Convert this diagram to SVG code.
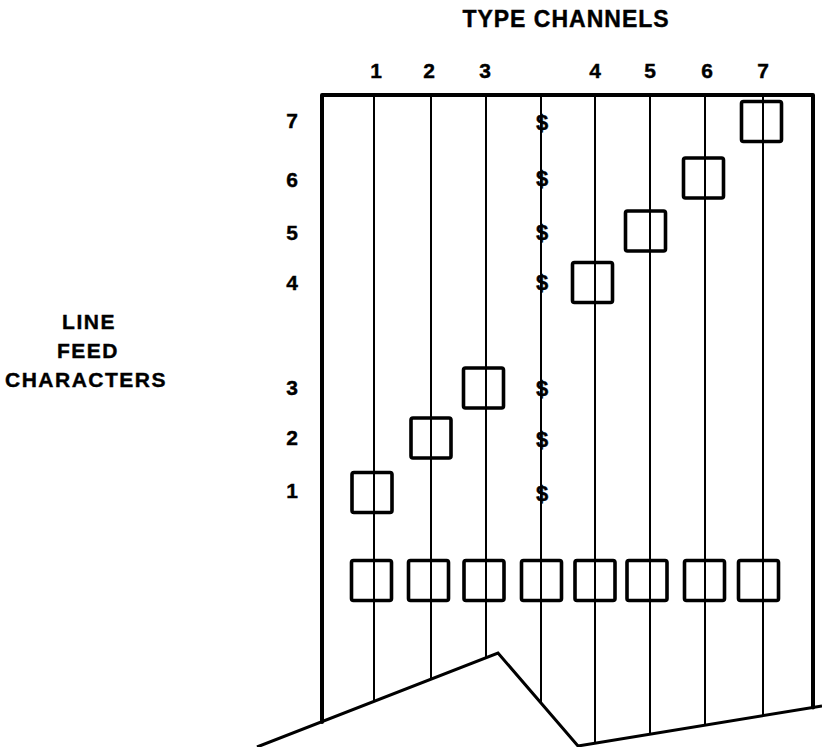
<svg xmlns="http://www.w3.org/2000/svg" width="822" height="747" viewBox="0 0 822 747">
<style>
.t{font-family:"Liberation Sans",Arial,sans-serif;font-weight:bold;fill:#000;stroke:#000;stroke-width:0.4;}
.lab{font-size:21px;text-anchor:middle;letter-spacing:1.5px;}
.num{font-size:21px;text-anchor:middle;}
.dol{font-size:22px;text-anchor:middle;}
.hdr{font-size:23px;text-anchor:middle;letter-spacing:1px;}
.frame{fill:none;stroke:#000;stroke-width:4;stroke-linejoin:round;stroke-linecap:round;}
.ch{stroke:#000;stroke-width:2;fill:none;}
.sq{fill:none;stroke:#000;stroke-width:3.6;}
.edge{fill:none;stroke:#000;stroke-width:3;stroke-linejoin:miter;}
</style>
<rect width="822" height="747" fill="#fff"/>

<g id="header">
<text class="t hdr" x="566" y="27">TYPE CHANNELS</text>
<text class="t num" x="376" y="78">1</text>
<text class="t num" x="429" y="78">2</text>
<text class="t num" x="485" y="78">3</text>
<text class="t num" x="595" y="78">4</text>
<text class="t num" x="650" y="78">5</text>
<text class="t num" x="707" y="78">6</text>
<text class="t num" x="763" y="78">7</text>
</g>

<g id="side-label">
<text class="t lab" x="89" y="329">LINE</text>
<text class="t lab" x="88" y="358">FEED</text>
<text class="t lab" x="86" y="387">CHARACTERS</text>
</g>

<g id="row-labels">
<text class="t num" x="292" y="128">7</text>
<text class="t num" x="292" y="187">6</text>
<text class="t num" x="292" y="240">5</text>
<text class="t num" x="292" y="290">4</text>
<text class="t num" x="292" y="395">3</text>
<text class="t num" x="292" y="445">2</text>
<text class="t num" x="292" y="498">1</text>
</g>

<g id="frame">
<path class="frame" d="M322,722 L322,95 L813,95 L813,707.5"/>
<polyline class="edge" points="257,747 498,653 578,746 822,706"/>
</g>

<g id="connectors">
<line class="ch" x1="374" y1="95" x2="374" y2="701.4"/>
<line class="ch" x1="431" y1="95" x2="431" y2="679.1"/>
<line class="ch" x1="486" y1="95" x2="486" y2="657.7"/>
<line class="ch" x1="541" y1="95" x2="541" y2="703"/>
<line class="ch" x1="595" y1="95" x2="595" y2="743.2"/>
<line class="ch" x1="650" y1="95" x2="650" y2="734.2"/>
<line class="ch" x1="705" y1="95" x2="705" y2="725.2"/>
<line class="ch" x1="763" y1="95" x2="763" y2="715.7"/>
</g>

<g id="dollar-marks">
<text class="t dol" x="542" y="130">$</text>
<text class="t dol" x="542" y="186">$</text>
<text class="t dol" x="542" y="240">$</text>
<text class="t dol" x="542" y="290">$</text>
<text class="t dol" x="542" y="396">$</text>
<text class="t dol" x="542" y="447">$</text>
<text class="t dol" x="542" y="501">$</text>
</g>

<g id="lf-1"><rect class="sq" x="352" y="472.5" width="40" height="40" rx="2"/></g>
<g id="lf-2"><rect class="sq" x="411" y="418" width="40" height="40" rx="2"/></g>
<g id="lf-3"><rect class="sq" x="463.5" y="368" width="40" height="40" rx="2"/></g>
<g id="lf-4"><rect class="sq" x="572.5" y="262.5" width="40" height="40" rx="2"/></g>
<g id="lf-5"><rect class="sq" x="625.5" y="211" width="40" height="40" rx="2"/></g>
<g id="lf-6"><rect class="sq" x="683.5" y="158" width="40" height="40" rx="2"/></g>
<g id="lf-7"><rect class="sq" x="741.5" y="101.5" width="40" height="40" rx="2"/></g>

<g id="base-1"><rect class="sq" x="351.5" y="560.5" width="40" height="40" rx="2"/></g>
<g id="base-2"><rect class="sq" x="408.5" y="560.5" width="40" height="40" rx="2"/></g>
<g id="base-3"><rect class="sq" x="464" y="560.5" width="40" height="40" rx="2"/></g>
<g id="base-4"><rect class="sq" x="521.5" y="560.5" width="40" height="40" rx="2"/></g>
<g id="base-5"><rect class="sq" x="575" y="560.5" width="40" height="40" rx="2"/></g>
<g id="base-6"><rect class="sq" x="627" y="560.5" width="40" height="40" rx="2"/></g>
<g id="base-7"><rect class="sq" x="684.5" y="560.5" width="40" height="40" rx="2"/></g>
<g id="base-8"><rect class="sq" x="738.5" y="560.5" width="40" height="40" rx="2"/></g>
</svg>
